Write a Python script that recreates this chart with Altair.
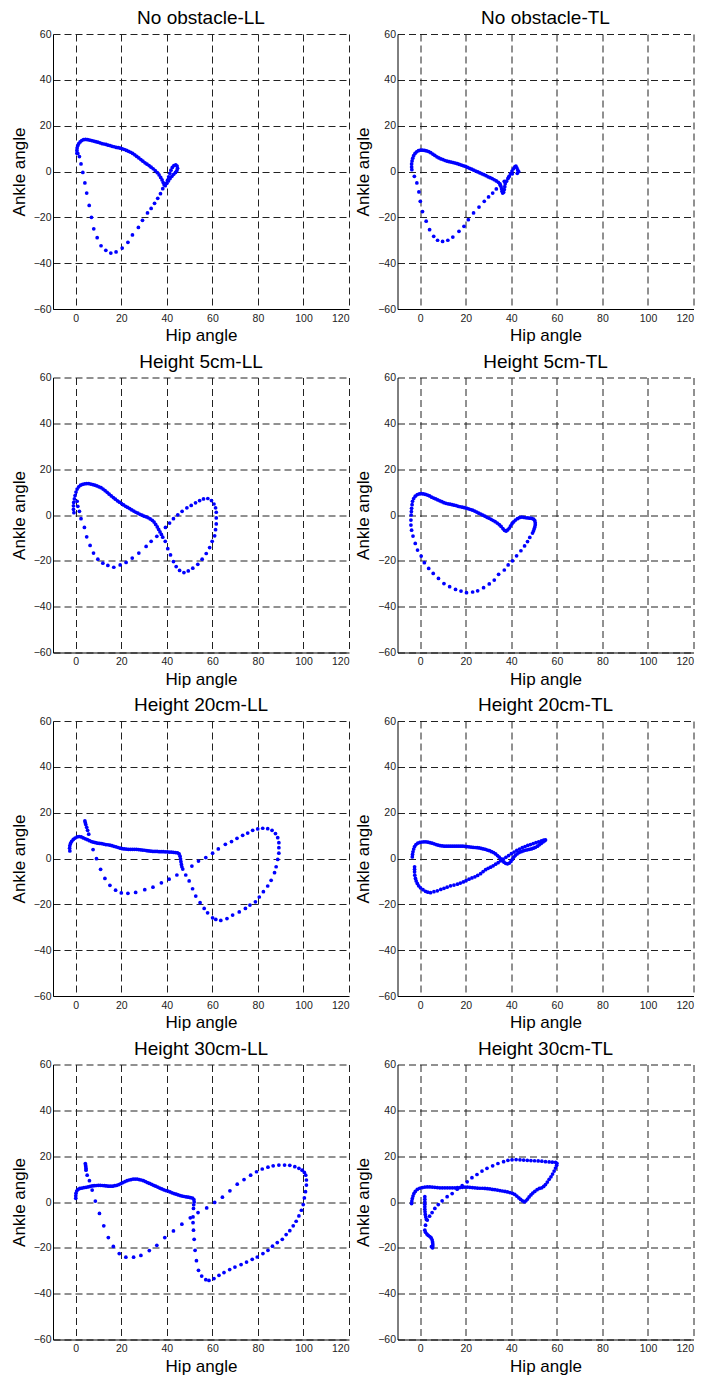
import altair as alt
import pandas as pd

TITLES = ["No obstacle-LL", "No obstacle-TL", "Height 5cm-LL", "Height 5cm-TL",
          "Height 20cm-LL", "Height 20cm-TL", "Height 30cm-LL", "Height 30cm-TL"]
X_TICKS = [0, 20, 40, 60, 80, 100, 120]
Y_TICKS = [-60, -40, -20, 0, 20, 40, 60]

# (hip angle, ankle angle) points
NO_LL = [(0.5,8.0),(0.5,9.2),(0.6,10.3),(0.9,11.3),(1.3,12.2),(1.9,12.9),(2.6,13.5),(3.4,13.9),(4.3,14.0),(5.2,13.9),
 (6.1,13.7),(7.0,13.5),(7.9,13.3),(8.8,13.0),(9.7,12.8),(10.6,12.5),(11.5,12.2),(12.4,12.0),(13.3,11.8),(14.2,11.5),
 (15.1,11.3),(16.0,11.0),(16.9,10.8),(17.8,10.5),(18.7,10.4),(19.6,10.2),(20.5,9.9),(21.4,9.6),(22.3,9.2),(23.2,8.8),
 (24.1,8.4),(25.0,7.9),(25.9,7.3),(26.8,6.6),(27.7,5.9),(28.6,5.2),(29.5,4.5),(30.4,3.8),(31.3,3.2),(32.2,2.6),
 (33.1,1.9),(34.0,1.2),(34.9,0.4),(35.8,-0.5),(36.6,-1.5),(37.3,-2.6),(37.9,-3.7),(38.4,-4.8),(38.8,-5.8),(39.3,-6.2),
 (39.8,-5.2),(40.3,-3.8),(40.8,-2.3),(41.3,-0.8),(41.8,0.6),(42.4,1.8),(43.1,2.6),(43.9,2.9),(44.5,2.4),(44.7,1.4),
 (44.4,0.4),(43.8,-0.4),(43.0,-1.2),(42.2,-2.1),(41.4,-3.1),(40.7,-4.1),(40.0,-5.1),
 (38.2,-7.5),(37.2,-9.7),(36.0,-11.7),(34.6,-13.9),(33.1,-16.1),(31.5,-18.1),(29.3,-21.3),(27.5,-24.4),(24.9,-27.7),
 (22.9,-30.9),(20.4,-33.4),(17.7,-35.1),(15.4,-35.6),(13.2,-34.4),(11.1,-32.4),(9.4,-28.9),(7.9,-25.0),(6.9,-20.0),
 (5.9,-14.8),(4.8,-9.4),(4.0,-5.0),(3.1,-0.4),(2.3,3.3),(1.6,6.5),(0.9,7.9)]

NO_TL = [(-3.7,0.8),(-3.8,2.0),(-3.8,3.3),(-3.6,4.6),(-3.3,5.8),(-2.9,6.9),(-2.3,7.9),(-1.6,8.6),(-0.8,9.1),(0.1,9.3),
 (1.0,9.3),(1.9,9.2),(2.8,9.0),(3.7,8.7),(4.6,8.2),(5.5,7.6),(6.4,7.0),(7.3,6.4),(8.2,5.9),(9.1,5.5),(10.0,5.2),
 (10.9,4.8),(11.8,4.5),(12.7,4.3),(13.6,4.1),(14.5,3.9),(15.4,3.7),(16.3,3.4),(17.2,3.1),(18.1,2.8),(19.0,2.5),
 (19.9,2.2),(20.8,1.8),(21.7,1.4),(22.6,1.0),(23.5,0.6),(24.4,0.2),(25.3,-0.2),(26.2,-0.6),(27.1,-1.0),(28.0,-1.4),
 (28.9,-1.8),(29.8,-2.3),(30.7,-2.7),(31.6,-3.1),(32.5,-3.6),(33.4,-4.1),(34.3,-4.7),(35.0,-5.4),(35.4,-6.4),
 (35.7,-7.5),(35.9,-8.6),(36.2,-9.4),(36.6,-9.0),(36.9,-7.9),(37.1,-6.6),(37.3,-5.3),(37.9,-4.2),(38.5,-3.1),
 (39.1,-2.0),(39.7,-0.9),(40.3,0.2),(40.9,1.2),(41.5,2.0),(42.0,2.4),(42.4,1.6),(42.8,0.7),(43.2,0.0),(42.6,-0.8),
 (40.4,-1.0),(38.8,-2.5),(36.9,-4.3),(35.1,-5.9),(33.4,-7.6),(31.8,-9.4),(30.0,-11.1),(28.1,-13.0),(25.8,-15.5),
 (23.4,-18.1),(21.1,-21.0),(19.2,-23.9),(17.0,-26.1),(14.3,-28.6),(12.1,-30.0),(9.8,-30.5),(7.6,-30.0),(5.9,-28.3),
 (4.1,-25.4),(2.6,-21.7),(1.0,-17.5),(0.0,-13.0),(-0.6,-8.9),(-1.5,-5.0),(-2.6,-2.1)]

H5_LL = [(-0.8,1.0),(-1.0,2.5),(-1.0,4.0),(-0.9,5.5),(-0.6,7.0),(-0.3,8.5),(0.1,10.0),(0.6,11.3),(1.3,12.3),(2.1,13.0),
 (3.0,13.4),(3.9,13.6),(4.8,13.7),(5.7,13.7),(6.6,13.5),(7.5,13.3),(8.4,13.0),(9.3,12.7),(10.2,12.3),(11.1,11.9),
 (12.0,11.3),(12.9,10.6),(13.8,9.9),(14.7,9.1),(15.6,8.3),(16.5,7.6),(17.4,6.9),(18.3,6.2),(19.2,5.6),(20.1,5.0),
 (21.0,4.4),(21.9,3.8),(22.8,3.3),(23.7,2.8),(24.6,2.2),(25.5,1.7),(26.4,1.2),(27.3,0.8),(28.2,0.3),(29.1,-0.1),
 (30.0,-0.5),(30.9,-0.8),(31.8,-1.2),(32.7,-1.7),(33.6,-2.3),(34.4,-3.1),(35.1,-4.1),(35.8,-5.2),(36.4,-6.3),
 (37.0,-7.4),(37.6,-8.5),(38.2,-9.7),
 (39.3,-11.5),(40.4,-14.7),(41.6,-17.4),(42.9,-20.3),(44.1,-22.5),(45.6,-24.2),(47.5,-25.1),(49.4,-24.4),(51.4,-23.2),
 (53.6,-21.5),(55.5,-19.3),(57.3,-16.8),(58.8,-14.2),(59.9,-11.5),(61.0,-9.1),(61.4,-6.4),(61.7,-3.9),(61.7,-1.3),
 (61.7,1.2),(61.4,3.1),(60.7,4.8),(59.6,6.3),(58.0,7.2),(56.1,7.0),(54.4,6.3),(52.6,5.3),(50.7,4.2),(48.8,3.1),
 (46.7,1.6),(44.8,0.1),(42.9,-1.6),(41.2,-3.5),(39.4,-5.4),(35.6,-9.3),(33.1,-11.5),(30.9,-13.7),(27.7,-16.6),
 (24.8,-18.8),(22.1,-20.7),(19.5,-21.8),(16.7,-22.8),(14.1,-22.0),(11.9,-21.0),(9.7,-19.3),(7.8,-16.6),(6.3,-13.3),
 (4.8,-9.5),(3.8,-5.4),(2.3,-1.6),(1.6,1.6),(0.9,3.8),(0.6,6.0)]

H5_TL = [(-3.8,2.9),(-3.6,4.5),(-3.4,6.0),(-2.9,7.2),(-2.2,8.2),(-1.3,8.9),(-0.4,9.2),(0.5,9.3),(1.4,9.2),(2.3,9.0),
 (3.2,8.7),(4.1,8.3),(5.0,7.8),(5.9,7.4),(6.8,7.0),(7.7,6.6),(8.6,6.2),(9.5,5.8),(10.4,5.4),(11.3,5.1),(12.2,4.9),
 (13.1,4.7),(14.0,4.5),(14.9,4.3),(15.8,4.1),(16.7,3.8),(17.6,3.6),(18.5,3.4),(19.4,3.2),(20.3,3.0),(21.2,2.7),
 (22.1,2.4),(23.0,2.1),(23.9,1.7),(24.8,1.3),(25.7,0.8),(26.6,0.4),(27.5,-0.1),(28.4,-0.5),(29.3,-1.0),(30.2,-1.4),
 (31.1,-1.9),(32.0,-2.4),(32.9,-2.9),(33.8,-3.5),(34.7,-4.2),(35.5,-5.0),(36.3,-5.9),(37.0,-6.7),(37.7,-7.0),
 (38.4,-6.5),(39.1,-5.7),(39.7,-4.7),(40.3,-3.8),(41.0,-3.0),(41.8,-2.2),(42.7,-1.6),(43.6,-1.1),(44.5,-0.9),
 (45.4,-1.0),(46.3,-1.2),(47.2,-1.3),(48.1,-1.4),(49.0,-1.5),(49.8,-1.8),(50.3,-2.5),(50.5,-3.4),(50.5,-4.3),
 (50.3,-5.2),(50.0,-6.1),(49.7,-7.0),
 (49.3,-7.9),(48.1,-9.8),(47.1,-11.6),(45.8,-13.5),(44.2,-15.6),(42.3,-17.8),(40.5,-20.0),(38.6,-21.8),(36.9,-24.0),
 (34.4,-25.9),(32.5,-28.4),(30.3,-30.1),(27.8,-31.7),(25.2,-33.1),(23.0,-33.6),(20.3,-33.9),(17.9,-33.2),(15.5,-32.5),
 (12.9,-31.3),(10.4,-29.9),(8.0,-27.7),(5.7,-25.5),(3.7,-23.3),(1.8,-20.8),(0.4,-17.9),(-1.2,-15.3),(-2.2,-12.4),
 (-3.2,-9.2),(-3.8,-6.6),(-4.1,-4.4),(-4.1,-2.2),(-4.0,0.0),(-3.9,1.5)]

H20_LL = [(-2.6,3.3),(-2.7,4.5),(-2.6,5.6),(-2.3,6.6),(-1.8,7.5),(-1.1,8.3),(-0.3,8.9),(0.6,9.4),(1.5,9.6),(2.4,9.4),
 (3.3,9.0),(4.2,8.6),(5.1,8.2),(6.0,7.8),(6.9,7.4),(7.8,7.1),(8.7,6.9),(9.6,6.7),(10.5,6.6),(11.4,6.5),(12.3,6.3),
 (13.2,6.1),(14.1,6.0),(15.0,5.8),(15.9,5.6),(16.8,5.3),(17.7,5.1),(18.6,4.8),(19.5,4.5),(20.4,4.3),(21.3,4.2),
 (22.2,4.1),(23.1,4.0),(24.0,4.0),(24.9,4.0),(25.8,4.0),(26.7,4.0),(27.6,3.9),(28.5,3.8),(29.4,3.7),(30.3,3.6),
 (31.2,3.4),(32.1,3.3),(33.0,3.2),(33.9,3.1),(34.8,3.1),(35.7,3.1),(36.6,3.0),(37.5,3.0),(38.4,3.0),(39.3,2.9),
 (40.2,2.9),(41.1,2.8),(42.0,2.8),(42.9,2.7),(43.8,2.6),(44.7,2.5),(45.4,2.0),(45.8,1.0),(46.0,-0.2),(46.2,-1.4),
 (46.4,-2.6),(46.6,-3.6),(47.0,-4.6),
 (4.0,16.4),(4.2,15.6),(4.4,14.8),(4.8,13.6),(5.2,12.3),(5.7,10.6),(7.6,3.9),(9.1,-0.1),(10.9,-4.7),(12.8,-8.7),
 (15.0,-11.7),(17.5,-13.8),(20.0,-15.0),(22.9,-15.2),(26.3,-14.8),(30.3,-13.6),(33.9,-12.5),(37.6,-10.6),(41.0,-9.0),
 (44.4,-7.2),(51.0,-3.3),(53.9,-1.1),(57.1,0.4),(60.1,2.3),(62.6,4.2),(65.7,6.2),(68.4,7.4),(70.8,8.8),(73.3,10.1),
 (75.5,11.1),(77.7,12.3),(79.9,12.9),(82.1,13.2),(84.3,13.0),(86.2,12.3),(87.7,10.9),(88.7,9.1),(89.2,6.9),(89.2,4.7),
 (89.2,2.3),(88.7,-0.4),(88.0,-3.6),(87.3,-6.2),(85.8,-9.5),(84.3,-12.0),(82.4,-14.5),(80.6,-16.8),(78.9,-18.9),
 (76.5,-20.3),(74.5,-21.8),(71.8,-23.3),(68.9,-24.7),(66.4,-26.2),(63.7,-27.0),(61.5,-26.6),(60.1,-25.9),(57.9,-23.7),
 (56.4,-21.8),(54.6,-19.3),(52.7,-16.4),(51.3,-13.2),(49.8,-9.8),(48.3,-7.2)]

H20_TL = [(-3.5,0.7),(-3.4,1.8),(-3.2,2.9),(-2.9,4.1),(-2.5,5.2),(-1.9,6.1),(-1.1,6.7),(-0.2,7.0),(0.7,7.2),(1.6,7.3),
 (2.5,7.3),(3.4,7.1),(4.3,6.9),(5.2,6.7),(6.1,6.4),(7.0,6.1),(7.9,5.8),(8.8,5.6),(9.7,5.5),(10.6,5.4),(11.5,5.4),
 (12.4,5.4),(13.3,5.4),(14.2,5.4),(15.1,5.4),(16.0,5.4),(16.9,5.4),(17.8,5.4),(18.7,5.4),(19.6,5.3),(20.5,5.2),
 (21.4,5.1),(22.3,5.0),(23.2,4.9),(24.1,4.8),(25.0,4.7),(25.9,4.6),(26.8,4.4),(27.7,4.2),(28.6,4.0),(29.5,3.7),
 (30.4,3.4),(31.3,3.0),(32.2,2.6),(33.1,2.0),(33.9,1.3),(34.7,0.6),(35.4,-0.2),(36.1,-0.9),(36.8,-1.6),(37.5,-2.1),
 (38.3,-2.3),(39.1,-2.0),(39.8,-1.3),(40.4,-0.4),(41.0,0.5),(41.7,1.3),(42.5,2.0),(43.4,2.6),(44.3,3.0),(45.2,3.3),
 (46.1,3.6),(47.0,3.8),(47.9,4.0),(48.8,4.2),(49.7,4.5),(50.6,4.9),(51.5,5.4),(52.3,6.0),(53.1,6.6),(53.9,7.2),
 (54.6,7.7),(55.0,8.1),
 (54.2,8.0),(53.2,7.7),(52.0,7.3),(50.8,6.9),(49.6,6.5),(48.4,6.1),(47.2,5.7),(46.0,5.2),(44.8,4.7),(43.6,4.1),
 (42.4,3.5),(41.2,2.8),(40.0,2.1),(38.8,1.3),(37.6,0.5),(36.4,-0.3),(35.3,-1.0),(34.2,-1.8),(33.1,-2.5),(32.0,-3.2),
 (30.9,-3.8),(29.8,-4.3),(28.7,-4.9),(27.6,-5.7),(26.5,-6.6),(25.2,-7.4),(24.0,-8.0),(22.7,-8.5),(21.4,-9.0),
 (20.1,-9.7),(18.9,-10.2),(17.6,-10.7),(16.3,-11.2),(14.8,-11.6),(13.3,-11.9),(11.8,-12.5),(10.4,-13.0),(9.0,-13.5),
 (7.5,-14.1),(6.0,-14.5),(4.5,-14.9),(3.3,-14.7),(2.3,-14.3),(1.2,-13.6),(0.1,-12.8),(-0.7,-11.9),(-1.3,-10.9),
 (-1.8,-9.8),(-2.1,-8.7),(-2.4,-7.3),(-2.5,-5.8),(-2.5,-4.7),(-2.5,-3.6)]

H30_LL = [(52.0,0.0),(51.9,1.0),(51.3,1.7),(50.4,1.9),(49.5,2.1),(48.6,2.2),(47.7,2.4),(46.8,2.6),(45.9,2.8),(45.0,3.1),
 (44.1,3.4),(43.2,3.7),(42.3,4.0),(41.4,4.4),(40.5,4.8),(39.6,5.0),(38.7,5.3),(37.8,5.7),(36.9,6.1),(36.0,6.5),
 (35.1,6.9),(34.2,7.3),(33.3,7.7),(32.4,8.1),(31.5,8.5),(30.6,8.9),(29.7,9.3),(28.8,9.6),(27.9,9.8),(27.0,10.0),
 (26.1,10.0),(25.2,10.0),(24.3,9.8),(23.4,9.6),(22.5,9.3),(21.6,8.9),(20.7,8.5),(19.8,8.0),(18.9,7.6),(18.0,7.3),
 (17.1,7.1),(16.2,6.9),(15.3,6.9),(14.4,6.9),(13.5,7.0),(12.6,7.1),(11.7,7.2),(10.8,7.3),(9.9,7.3),(9.0,7.2),
 (8.1,7.1),(7.2,7.0),(6.3,6.8),(5.4,6.6),(4.5,6.4),(3.6,6.3),(2.7,6.1),(1.8,5.9),(1.0,5.5),(0.4,4.8),(0.1,3.8),
 (0.0,2.7),(0.0,1.6),
 (4.2,16.8),(4.3,16.1),(4.4,15.4),(4.5,14.6),(4.5,13.9),(5.0,11.7),(6.0,9.3),(7.2,5.2),(8.6,0.4),(10.4,-5.0),
 (12.3,-10.4),(14.3,-15.5),(16.5,-19.4),(19.1,-22.5),(22.0,-24.1),(25.4,-24.1),(28.6,-23.3),(32.3,-21.2),(35.6,-18.9),
 (39.1,-15.5),(42.9,-12.6),(46.6,-9.7),(50.3,-6.9),(53.7,-4.6),(57.5,-2.6),(61.0,-0.2),(64.4,2.1),(67.7,4.9),
 (70.9,7.8),(73.9,9.8),(76.8,11.7),(79.4,13.2),(81.9,14.4),(84.4,15.2),(86.7,15.8),(89.2,16.1),(91.7,16.1),
 (94.0,16.0),(96.2,15.4),(98.0,14.7),(99.4,13.9),(100.4,12.9),(101.0,11.7),(101.3,9.6),(101.3,7.4),(100.9,4.5),
 (100.4,1.8),(99.9,-1.1),(99.1,-3.6),(98.0,-6.1),(96.8,-8.4),(95.5,-10.4),(94.0,-12.5),(92.4,-14.2),(90.7,-16.3),
 (88.5,-17.7),(86.4,-19.3),(84.4,-21.1),(82.2,-22.5),(79.7,-24.0),(77.5,-25.0),(75.0,-26.2),(72.6,-27.3),(69.9,-28.4),
 (67.6,-29.5),(65.1,-30.8),(62.9,-32.0),(60.7,-33.4),(58.5,-34.2),(57.1,-33.9),(55.3,-32.3),(53.9,-29.8),(53.0,-25.6),
 (52.4,-21.1),(52.0,-16.3),(51.7,-12.3),(51.5,-9.0),(51.5,-6.5),(51.7,-2.8),(51.8,-1.2)]

H30_TL = [(-3.8,-0.7),(-3.7,0.4),(-3.5,1.5),(-3.2,2.6),(-2.8,3.7),(-2.2,4.6),(-1.3,5.5),(-0.3,6.0),(0.9,6.3),(2.0,6.5),
 (3.1,6.6),(4.2,6.6),(5.3,6.5),(6.4,6.4),(7.5,6.3),(8.6,6.2),(9.7,6.2),(10.8,6.2),(11.9,6.2),(13.0,6.2),(14.1,6.2),
 (15.2,6.2),(16.3,6.3),(17.4,6.3),(18.5,6.4),(19.6,6.5),(20.7,6.5),(21.8,6.4),(22.9,6.3),(24.0,6.2),(25.1,6.1),
 (26.2,6.0),(27.3,6.0),(28.4,5.9),(29.5,5.8),(30.6,5.7),(31.7,5.5),(32.8,5.4),(33.9,5.2),(35.0,5.0),(36.1,4.8),
 (37.2,4.6),(38.3,4.4),(39.4,4.1),(40.5,3.8),(41.5,3.3),(42.4,2.6),(43.3,1.8),(44.1,1.1),(44.9,0.5),(45.7,0.1),
 (46.4,0.5),(47.1,1.3),(47.8,2.2),(48.6,3.1),(49.4,3.9),(50.3,4.6),(51.3,5.4),(52.3,5.9),(53.3,6.2),(54.2,6.8),
 (55.0,7.6),(55.8,8.7),(56.6,9.9),(57.4,11.0),(58.1,12.2),(58.8,13.5),(59.4,14.8),(59.9,16.0),(60.0,16.9),(59.4,17.3),
 (58.0,17.4),(56.6,17.5),(55.0,17.6),(53.4,17.8),(51.8,17.9),(50.2,18.0),(48.6,18.1),(47.0,18.2),(45.4,18.3),
 (43.8,18.4),(42.1,18.5),(40.3,18.4),(38.5,18.2),(36.6,17.6),(34.1,16.8),(31.8,15.8),(29.3,14.7),(27.1,13.5),
 (24.9,12.0),(22.7,10.6),(20.6,8.8),(18.4,7.1),(16.2,5.6),(14.0,3.7),(11.8,2.3),(9.6,0.5),(7.9,-1.1),(6.4,-2.8),
 (5.2,-4.6),(4.1,-6.2),(3.1,-7.9),(2.3,-10.1),(2.0,-12.3),(2.3,-13.2),(2.9,-14.0),(3.5,-14.6),(4.2,-15.1),
 (4.8,-15.7),(5.2,-16.5),(5.4,-17.4),(5.5,-18.3),(5.5,-19.2),(5.4,-20.0),(4.9,-19.5),
 (2.0,2.3),(2.0,1.2),(2.0,0.1),(2.0,-1.0),(2.0,-2.1),(2.0,-3.2),(2.1,-4.3),(2.2,-5.4),(2.4,-6.5),(2.7,-7.6)]

SERIES = [NO_LL, NO_TL, H5_LL, H5_TL, H20_LL, H20_TL, H30_LL, H30_TL]

FONT = "Liberation Sans"


def panel(points, title):
    df = pd.DataFrame(points, columns=["hip", "ankle"])
    return alt.Chart(df).mark_circle(size=14, color="#0000ff", opacity=1).encode(
        x=alt.X("hip:Q",
                scale=alt.Scale(domain=[-10, 120], nice=False, zero=False),
                axis=alt.Axis(values=X_TICKS, title="Hip angle", labelPadding=4, titlePadding=4)),
        y=alt.Y("ankle:Q",
                scale=alt.Scale(domain=[-60, 60], nice=False, zero=False),
                axis=alt.Axis(values=Y_TICKS, title="Ankle angle", labelPadding=2, titlePadding=5)),
    ).properties(
        width=296, height=275,
        title=alt.TitleParams(title, fontSize=19, font=FONT, fontWeight="normal",
                              color="#000000", frame="group", anchor="middle", offset=1),
    )


panels = [panel(s, t) for s, t in zip(SERIES, TITLES)]

chart = alt.concat(*panels, columns=2, spacing={"row": 68.5, "column": 48.5}, bounds="flush").properties(
    padding={"left": 10, "top": 9, "right": 5, "bottom": 5},
    background="white",
).configure(
    style={"group-title": {"fontWeight": "normal", "fontSize": 19, "font": FONT}}
).configure_view(stroke=None).configure_title(
    font=FONT, fontSize=19, fontWeight="normal", color="#000000",
).configure_axis(
    domainColor="#000000", domainWidth=1, domainOpacity=1,
    grid=True, gridColor="#222222", gridDash=[7, 4], gridOpacity=1, gridWidth=1,
    ticks=False, tickSize=0,
    labelFont=FONT, labelFontSize=10.5, labelColor="#222222",
    titleFont=FONT, titleFontSize=17, titleFontWeight="normal", titleColor="#000000",
)

chart.save("out.html", embed_options={"renderer": "svg", "actions": False})
